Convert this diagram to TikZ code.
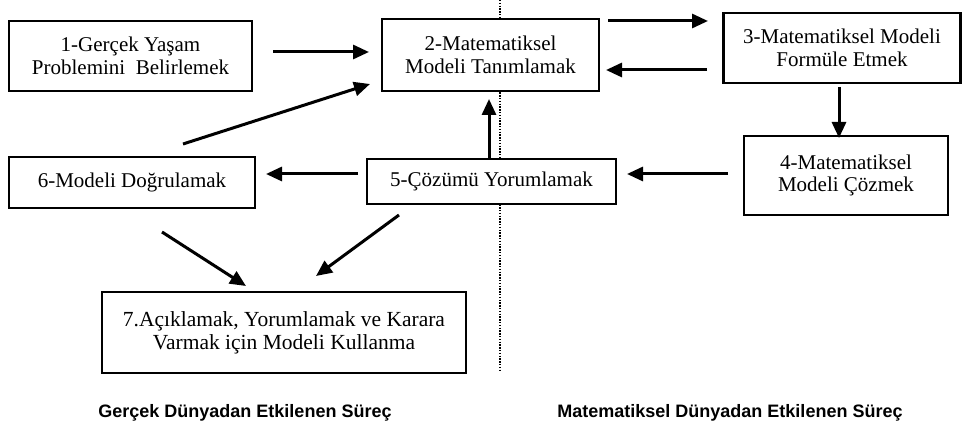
\documentclass[tikz,border=0pt]{standalone}
\usepackage{fontspec}
\setmainfont{Liberation Serif}
\newfontfamily\lsans{Liberation Sans}
\usetikzlibrary{arrows.meta}
\tikzset{
  box/.style={draw=black, line width=2.6pt, fill=white, align=center, inner sep=0pt,
    font=\fontsize{21}{22.5}\selectfont},
  arr/.style={line width=3pt, -{Triangle[length=16pt,width=14pt]}},
  captext/.style={font=\lsans\bfseries\fontsize{18}{20}\selectfont, inner sep=0pt, anchor=base}
}
\begin{document}
\begin{tikzpicture}[x=1pt,y=-1pt]
\useasboundingbox (0,0) rectangle (962,430);
\draw[line width=2pt, dash pattern=on 1.4pt off 1.4pt] (500,0) -- (500,372);
\node[box, minimum width=243pt, minimum height=70pt] (b1) at (130.5,56) {1-Gerçek Yaşam\\Problemini\ \ Belirlemek};
\node[box, minimum width=217pt, minimum height=72pt] (b2) at (490.5,55) {2-Matematiksel\\Modeli Tanımlamak};
\node[box, minimum width=237pt, minimum height=70pt] (b3) at (842,48) {3-Matematiksel Modeli\\Formüle Etmek};
\node[box, minimum width=204pt, minimum height=79pt] (b4) at (846,175.5) {4-Matematiksel\\Modeli Çözmek};
\node[box, minimum width=249pt, minimum height=45pt] (b5) at (491.5,181.5) {5-Çözümü Yorumlamak};
\node[box, minimum width=246pt, minimum height=51pt] (b6) at (132,182.5) {6-Modeli Doğrulamak};
\node[box, minimum width=364pt, minimum height=81pt, font=\fontsize{21.5}{23}\selectfont] (b7) at (284,332.5) {7.Açıklamak, Yorumlamak ve Karara\\Varmak için Modeli Kullanma};
\node[captext] (c1) at (245,418) {Gerçek Dünyadan Etkilenen Süreç};
\node[captext] (c2) at (730,418) {Matematiksel Dünyadan Etkilenen Süreç};
% arrow end points
\coordinate (p12a) at (273,52); \coordinate (p12b) at (369,52);
\coordinate (p62a) at (183,144); \coordinate (p62b) at (370,84);
\coordinate (p23a) at (608,21); \coordinate (p23b) at (708,21);
\coordinate (p32a) at (707,70); \coordinate (p32b) at (606,70);
\coordinate (p34a) at (839,87); \coordinate (p34b) at (839,138);
\coordinate (p45a) at (728,174); \coordinate (p45b) at (627,174);
\coordinate (p52a) at (489,159); \coordinate (p52b) at (489,99);
\coordinate (p56a) at (358,174); \coordinate (p56b) at (266,174);
\coordinate (p67a) at (162,232); \coordinate (p67b) at (246,286);
\coordinate (p57a) at (399,215); \coordinate (p57b) at (316,276);
\draw[arr] (p12a) -- (p12b);
\draw[arr] (p62a) -- (p62b);
\draw[arr] (p23a) -- (p23b);
\draw[arr] (p32a) -- (p32b);
\draw[arr] (p34a) -- (p34b);
\draw[arr] (p45a) -- (p45b);
\draw[arr] (p52a) -- (p52b);
\draw[arr] (p56a) -- (p56b);
\draw[arr] (p67a) -- (p67b);
\draw[arr] (p57a) -- (p57b);
\end{tikzpicture}
\end{document}
